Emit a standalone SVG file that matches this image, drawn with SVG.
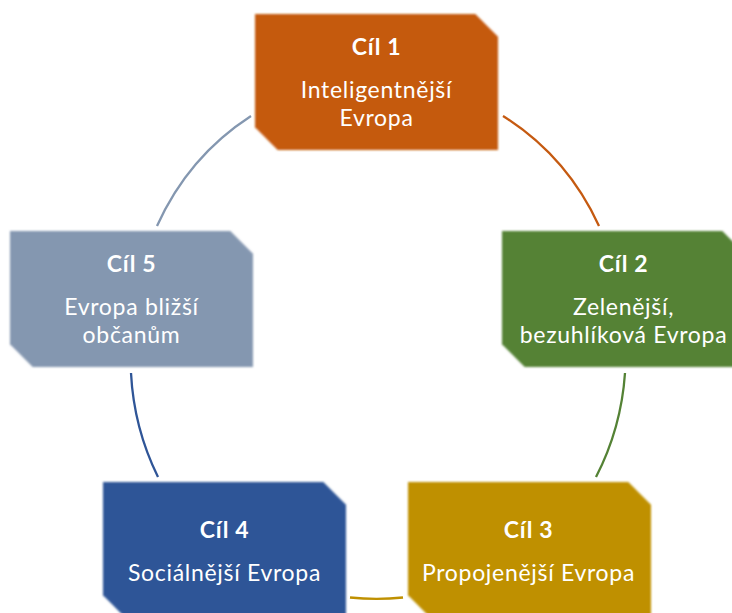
<svg xmlns="http://www.w3.org/2000/svg" width="732" height="613" viewBox="0 0 732 613">
  <defs>
    <style>
      .box { filter: url(#soft); }
      .t1 { font-family: Lato, "Open Sans", sans-serif; font-weight: bold; font-size: 23px; letter-spacing: 0.6px; fill: #ffffff; text-anchor: middle; }
      .t2 { font-family: Lato, "Open Sans", sans-serif; font-size: 23px; letter-spacing: 0.7px; fill: #ffffff; text-anchor: middle; }
      .arc { fill: none; stroke-width: 2.3; }
    </style>
    <filter id="soft" x="-5%" y="-5%" width="110%" height="110%">
      <feGaussianBlur stdDeviation="1.1"/>
    </filter>
    <path id="snip" d="M0,0 H220.3 L243,22.7 V136 H22.7 L0,113.3 Z"/>
  </defs>
  <rect width="732" height="613" fill="#ffffff"/>

  <g id="connectors">
    <path class="arc" stroke="#C55A11" d="M503,116 A250,259 0 0 1 599,226"/>
    <path class="arc" stroke="#548235" d="M625,373 A250,259 0 0 1 596,477"/>
    <path class="arc" stroke="#BF9000" d="M403,597.5 A250,259 0 0 1 350,597.5"/>
    <path class="arc" stroke="#2F5597" d="M158,477 A250,259 0 0 1 131,373"/>
    <path class="arc" stroke="#8497B0" d="M157,226 A250,259 0 0 1 251,116"/>
  </g>

  <g id="node1">
    <use href="#snip" class="box" x="255" y="14" fill="#C55A11"/>
    <text class="t1" x="376.5" y="55">Cíl 1</text>
    <text class="t2" x="376.5" y="98">Inteligentnější</text>
    <text class="t2" x="376.5" y="126">Evropa</text>
  </g>

  <g id="node2">
    <use href="#snip" class="box" x="502" y="231" fill="#548235"/>
    <text class="t1" x="623.5" y="272">Cíl 2</text>
    <text class="t2" x="623.5" y="315">Zelenější,</text>
    <text class="t2" x="623.5" y="343">bezuhlíková Evropa</text>
  </g>

  <g id="node3">
    <use href="#snip" class="box" x="408" y="482" fill="#BF9000"/>
    <text class="t1" x="528.5" y="538">Cíl 3</text>
    <text class="t2" x="528.5" y="581">Propojenější Evropa</text>
  </g>

  <g id="node4">
    <use href="#snip" class="box" x="103" y="482" fill="#2F5597"/>
    <text class="t1" x="224.5" y="538">Cíl 4</text>
    <text class="t2" x="224.5" y="581">Sociálnější Evropa</text>
  </g>

  <g id="node5">
    <use href="#snip" class="box" x="10" y="231" fill="#8497B0"/>
    <text class="t1" x="131.5" y="272">Cíl 5</text>
    <text class="t2" x="131.5" y="315">Evropa bližší</text>
    <text class="t2" x="131.5" y="343">občanům</text>
  </g>
</svg>
